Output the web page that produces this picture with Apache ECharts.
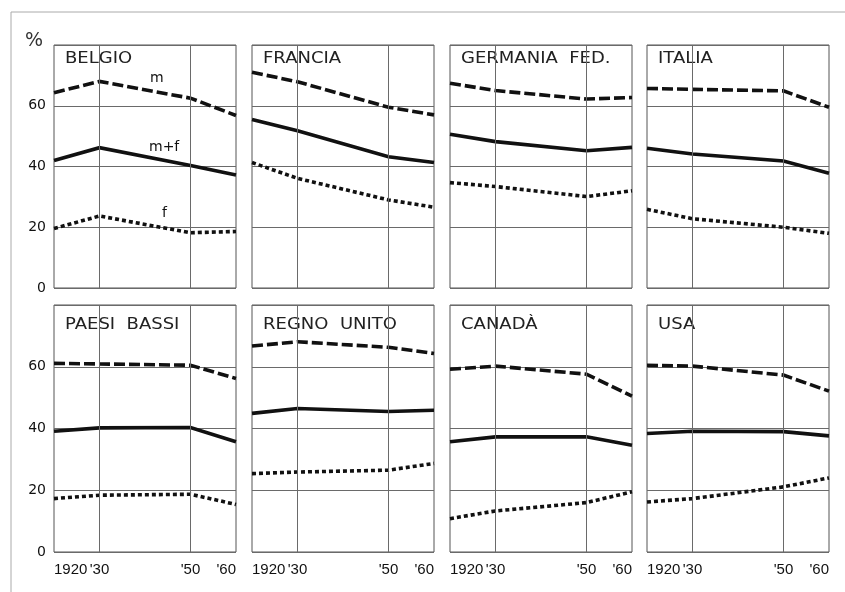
<!DOCTYPE html>
<html>
<head>
<meta charset="utf-8">
<script src="https://cdn.jsdelivr.net/npm/echarts@6/dist/echarts.min.js"></script>
<style>
html,body{margin:0;padding:0;background:#fff;}
#c{width:845px;height:592px;}
</style>
</head>
<body>
<div id="c"></div>
<script>
// ---- data ----
const years = [1920, 1930, 1950, 1960];
const countries = ['BELGIO', 'FRANCIA', 'GERMANIA  FED.', 'ITALIA', 'PAESI  BASSI', 'REGNO  UNITO', 'CANADÀ', 'USA'];
const mValues = [
  [64.3, 68.0, 62.5, 56.8],
  [71.0, 67.9, 59.5, 57.0],
  [67.4, 65.0, 62.2, 62.7],
  [65.7, 65.4, 64.9, 59.5],
  [61.1, 60.9, 60.5, 56.2],
  [66.7, 68.1, 66.3, 64.3],
  [59.2, 60.2, 57.6, 50.5],
  [60.5, 60.2, 57.3, 52.1]
];
const mfValues = [
  [42.0, 46.2, 40.3, 37.2],
  [55.5, 51.8, 43.2, 41.3],
  [50.6, 48.2, 45.2, 46.3],
  [46.0, 44.1, 41.8, 37.8],
  [39.1, 40.2, 40.3, 35.7],
  [44.9, 46.5, 45.5, 45.9],
  [35.7, 37.3, 37.3, 34.6],
  [38.4, 39.1, 39.0, 37.6]
];
const fValues = [
  [19.6, 23.7, 18.2, 18.6],
  [41.3, 36.1, 29.0, 26.6],
  [34.7, 33.4, 30.1, 32.0],
  [25.9, 22.8, 20.0, 18.0],
  [17.3, 18.4, 18.7, 15.4],
  [25.4, 25.9, 26.5, 28.7],
  [10.8, 13.3, 16.0, 19.5],
  [16.2, 17.3, 21.1, 24.0]
];
const xTickValues = [1920, 1930, 1950, 1960];
const xTickLabels = ['1920', "'30", "'50", "'60"];
const gridYears = [1930, 1950];
const yTickLabels = ['0', '20', '40', '60'];
const seriesLabels = ['m', 'm+f', 'f'];

// ---- layout ----
const colLeft = [54, 252, 450, 647];
const colWidth = 182;
const rowTop = [45, 305];
const rowHeight = [243, 247];
const titleDy = [14, 20];
const ink = '#111';
const gridColor = '#6a6a6a';

const grids = [], xAxes = [], yAxes = [], series = [], graphics = [];

countries.forEach((name, i) => {
  const r = Math.floor(i / 4), c = i % 4;
  grids.push({
    left: colLeft[c], top: rowTop[r], width: colWidth, height: rowHeight[r],
    show: true, borderColor: '#555', borderWidth: 1, backgroundColor: 'transparent'
  });
  xAxes.push({
    gridIndex: i, type: 'value', min: 1920, max: 1960,
    axisLine: { show: false }, axisTick: { show: false },
    splitLine: { show: false },
    axisLabel: {
      show: r === 1, customValues: xTickValues, margin: 10,
      alignMinLabel: 'left', alignMaxLabel: 'right',
      color: '#111', fontFamily: 'Liberation Sans', fontSize: 15,
      formatter: v => xTickLabels[xTickValues.indexOf(v)] || ''
    }
  });
  yAxes.push({
    gridIndex: i, type: 'value', min: 0, max: 80, interval: 20,
    axisLine: { show: false }, axisTick: { show: false },
    splitLine: { show: true, lineStyle: { color: gridColor, width: 1 } },
    axisLabel: {
      show: c === 0, margin: 8, color: '#111', fontFamily: 'DejaVu Sans', fontSize: 14,
      formatter: v => (v === 80 ? '' : yTickLabels[v / 20])
    }
  });
  // vertical grid lines
  series.push({
    type: 'line', xAxisIndex: i, yAxisIndex: i, data: [], z: 1, silent: true,
    markLine: {
      silent: true, symbol: 'none', animation: false,
      label: { show: false },
      lineStyle: { color: gridColor, width: 1, type: 'solid' },
      data: gridYears.map(y => ({ xAxis: y }))
    }
  });
  const mk = (vals, type, nm) => ({
    type: 'line', name: nm, xAxisIndex: i, yAxisIndex: i, z: 3,
    data: years.map((y, k) => [y, vals[k]]),
    symbol: 'none', animation: false,
    lineStyle: { color: ink, width: 3.6, type: type, cap: 'butt', join: 'miter' }
  });
  series.push(mk(mValues[i], [11, 4], 'm'));
  series.push(mk(mfValues[i], 'solid', 'm+f'));
  series.push(mk(fValues[i], [4, 3], 'f'));

  graphics.push({
    type: 'text', x: colLeft[c] + 11, y: rowTop[r] + titleDy[r], scaleX: 1.2,
    style: { text: name, font: '15px "DejaVu Sans"', fill: '#222', verticalAlign: 'middle', align: 'left' }
  });
});

// series labels in BELGIO panel
const lblPos = [[150, 78], [149, 147], [162, 213]];
seriesLabels.forEach((t, k) => {
  graphics.push({
    type: 'text', x: lblPos[k][0], y: lblPos[k][1],
    style: { text: t, font: '14px "DejaVu Sans"', fill: '#111', verticalAlign: 'middle', align: 'left' }
  });
});
// % sign
graphics.push({
  type: 'text', x: 25, y: 41,
  style: { text: '%', font: '19px "DejaVu Sans"', fill: '#333', verticalAlign: 'middle', align: 'left' }
});
// page frame
graphics.push({ type: 'line', shape: { x1: 11, y1: 12, x2: 845, y2: 12 }, style: { stroke: '#aaa', lineWidth: 1 } });
graphics.push({ type: 'line', shape: { x1: 11, y1: 12, x2: 11, y2: 592 }, style: { stroke: '#aaa', lineWidth: 1 } });

const chart = echarts.init(document.getElementById('c'), null, { renderer: 'canvas' });
chart.setOption({
  animation: false,
  backgroundColor: '#fff',
  grid: grids, xAxis: xAxes, yAxis: yAxes, series: series, graphic: graphics
});
</script>
</body>
</html>
